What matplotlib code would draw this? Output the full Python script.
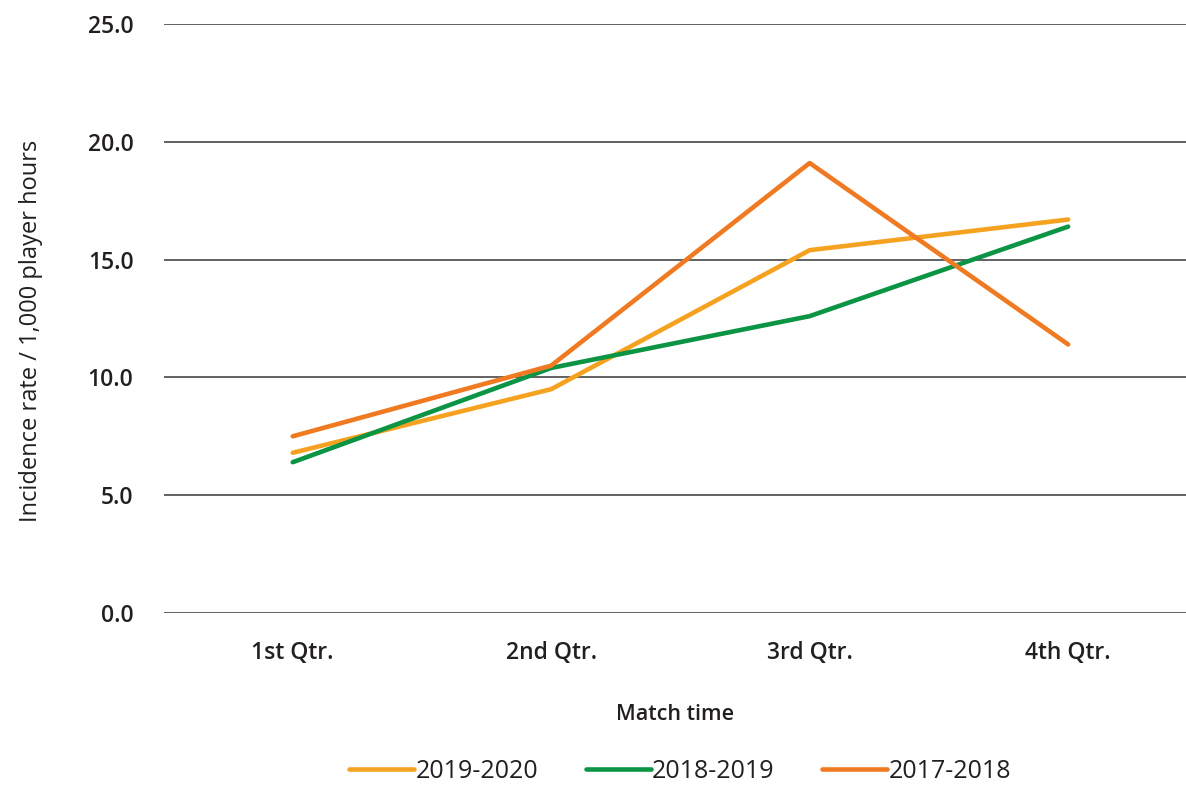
import numpy as np
import matplotlib.pyplot as plt

plt.rcParams['font.family'] = ['Open Sans', 'DejaVu Sans']

quarters = ['1st Qtr.', '2nd Qtr.', '3rd Qtr.', '4th Qtr.']
s2019_2020 = [6.8, 9.5, 15.4, 16.7]
s2018_2019 = [6.4, 10.4, 12.6, 16.4]
s2017_2018 = [7.5, 10.5, 19.1, 11.4]

series = [('2019-2020', s2019_2020, '#f6a221'),
          ('2018-2019', s2018_2019, '#0b9444'),
          ('2017-2018', s2017_2018, '#f07a22')]

fig = plt.figure(figsize=(11.86, 7.85), dpi=100)
ax = fig.add_axes([164/1186, 1-613/785, 1022/1186, 589/785])

x = np.arange(len(quarters))
for name, vals, col in series:
    ax.plot(x, vals, color=col, lw=3.3, label=name, solid_capstyle='round')

ax.set_ylim(0, 25)
ax.set_xlim(-0.498, 3.456)
ax.set_yticks(np.arange(0, 26, 5))
ax.set_yticklabels([f'{v:.1f}' for v in np.arange(0, 26, 5)])
ax.set_xticks(x)
ax.set_xticklabels(quarters)
ax.yaxis.grid(True, color='#555555', lw=1.3)
ax.set_axisbelow(True)
for s in ax.spines.values():
    s.set_visible(False)
ax.tick_params(length=0, colors='#231f20', labelsize=16.5)
ax.tick_params(axis='y', pad=22)
ax.tick_params(axis='x', pad=20)
for lab in ax.get_xticklabels() + ax.get_yticklabels():
    lab.set_fontweight('semibold')

ax.set_xlabel('Match time', fontsize=15.5, fontweight='semibold', color='#231f20', labelpad=28)
ax.set_ylabel('Incidence rate / 1,000 player hours', fontsize=17, color='#231f20')
ax.yaxis.set_label_coords(-0.118, 0.479)

fig.legend(loc='center', bbox_to_anchor=(680/1186, 1-771/785), ncol=3, frameon=False,
           fontsize=18, handlelength=2.6, handletextpad=0.05, columnspacing=1.9,
           labelcolor='#231f20')

fig.savefig('out.png', dpi=100)
